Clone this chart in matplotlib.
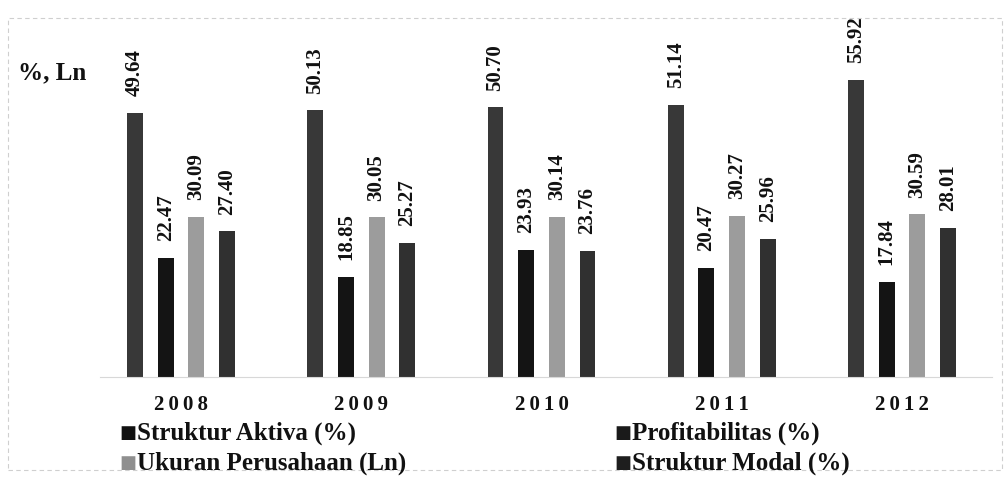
import matplotlib
matplotlib.use("Agg")
import matplotlib.pyplot as plt
import numpy as np
from matplotlib.patches import Rectangle

years = ["2008", "2009", "2010", "2011", "2012"]
series_names = ["Struktur Aktiva (%)", "Profitabilitas (%)", "Ukuran Perusahaan (Ln)", "Struktur Modal (%)"]
struktur_aktiva = [49.64, 50.13, 50.70, 51.14, 55.92]
profitabilitas = [22.47, 18.85, 23.93, 20.47, 17.84]
ukuran_perusahaan = [30.09, 30.05, 30.14, 30.27, 30.59]
struktur_modal = [27.40, 25.27, 23.76, 25.96, 28.01]
series = [struktur_aktiva, profitabilitas, ukuran_perusahaan, struktur_modal]
bar_colors = ["#383838", "#141414", "#9c9c9c", "#303030"]
legend_colors = ["#111111", "#1a1a1a", "#8f8f8f", "#1e1e1e"]

plt.rcParams['font.family'] = ['Liberation Serif', 'DejaVu Serif']

fig = plt.figure(figsize=(10.07, 4.8), dpi=100)
fig.patch.set_facecolor("white")

# faint frame
fig.add_artist(Rectangle((8/1007, 10/480), 994/1007, 452/480, transform=fig.transFigure,
                         fill=False, edgecolor="#cfcfcf", linewidth=0.8, linestyle=(0, (4, 3))))

ax = fig.add_axes([100/1007, (480-377)/480, 892/1007, 327/480])
ax.set_xlim(-0.45, 4.5)
ax.set_ylim(0, 61.5)

x = np.arange(len(years))
offsets = [-0.255, -0.085, 0.085, 0.255]
width = 0.088
for vals, off, col in zip(series, offsets, bar_colors):
    bars = ax.bar(x + off, vals, width=width, color=col, edgecolor="none")
    for b, v in zip(bars, vals):
        ax.annotate(f"{v:.2f}", (b.get_x() + b.get_width()/2, v), xytext=(0, 12),
                    textcoords="offset points", rotation=90, ha="center", va="bottom",
                    fontsize=15, fontweight="bold", color="#111111")

for s in ["top", "right", "left"]:
    ax.spines[s].set_visible(False)
ax.spines["bottom"].set_color("#d8d8d8")
ax.spines["bottom"].set_linewidth(0.8)
ax.set_yticks([])
ax.set_xticks(x)
ax.set_xticklabels(["\u2009".join(y) for y in years], fontsize=15, fontweight="bold", color="#111111")
ax.tick_params(axis="x", length=0, pad=13)
ax.set_facecolor("none")

fig.text(18/1007, 1 - 73/480, "%, Ln", fontsize=18, fontweight="bold", va="center", ha="left", color="#111111")

# legend (two columns)
leg_pos = [(119, 433), (614, 433), (119, 463), (614, 463)]
for name, col, (lx, ly) in zip(series_names, legend_colors, leg_pos):
    fig.text(lx/1007, 1 - ly/480, "\u25a0", fontsize=13, color=col, va="center", ha="left",
             family=['DejaVu Sans'])
    fig.text((lx + 18)/1007, 1 - ly/480, name, fontsize=18, fontweight="bold", va="center", ha="left",
             color="#111111")

fig.savefig("out.png", dpi=100, facecolor="white")
